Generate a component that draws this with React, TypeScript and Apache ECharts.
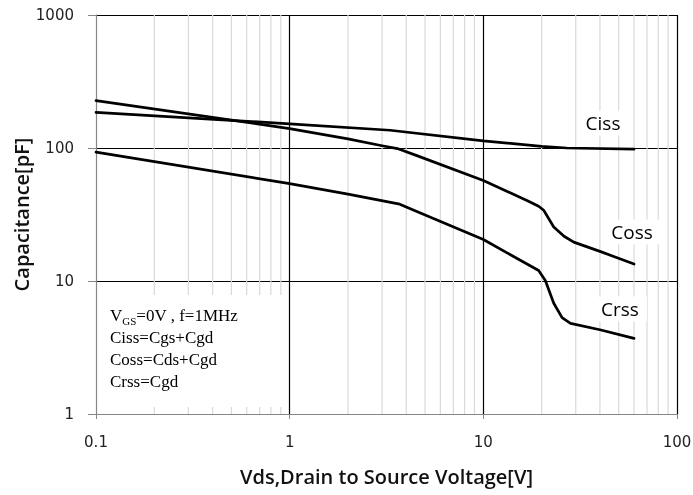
import React, { useEffect, useRef } from "react";
import * as echarts from "echarts";

// Drain-source voltage [V] and capacitance [pF] for each curve
const cissV = [0.1, 1, 3.3, 10, 20, 27, 60];
const cissC = [185, 152, 136, 113, 103, 100, 98];

const cossV = [0.1, 1, 2, 3, 3.6, 4.5, 10, 17, 19.3, 20.5, 23.1, 26.1, 29.3, 40, 60];
const cossC = [227, 140, 117, 104, 99, 88, 57, 40, 36.5, 34, 25.5, 21.7, 19.6, 16.7, 13.4];

const crssV = [0.1, 1, 2, 3.7, 4.6, 10, 19.3, 20.9, 23.1, 25.5, 28.2, 40, 60];
const crssC = [93, 54, 45, 37.8, 33, 20.5, 12, 10.1, 6.8, 5.3, 4.8, 4.3, 3.7];

const xTickLabels = ["0.1", "1", "10", "100"];
const yTickLabels = ["1", "10", "100", "1000"];
const minorGridX = [0.2, 0.3, 0.4, 0.5, 0.6, 0.7, 0.8, 0.9, 2, 3, 4, 5, 6, 7, 8, 9, 20, 30, 40, 50, 60, 70, 80, 90];

const fmt = (v: number, labels: string[]) => {
  const s = String(+Number(v).toPrecision(6));
  return labels.includes(s) ? s : "";
};

export default function App() {
  const ref = useRef<HTMLDivElement>(null);
  useEffect(() => {
    const chart = echarts.init(ref.current!, null, { renderer: "svg" });
    const curve = (name: string, v: number[], c: number[]) => ({
      type: "line",
      name,
      data: v.map((x, i) => [x, c[i]]),
      smooth: false,
      symbol: "none",
      silent: true,
      z: 5,
      lineStyle: { color: "#000", width: 2.7, join: "round", cap: "round" },
    });
    const minor = minorGridX.map((v) => ({
      type: "line",
      data: [
        [v, 1],
        [v, 1000],
      ],
      symbol: "none",
      silent: true,
      z: 1,
      lineStyle: { color: "#d9d9d9", width: 1.2 },
    }));
    const gray = "#868686";
    chart.setOption({
      animation: false,
      grid: { left: 96, right: 16, top: 15, bottom: 81, containLabel: false, outerBoundsMode: "none" },
      xAxis: {
        type: "log",
        logBase: 10,
        min: 0.1,
        max: 100,
        name: "Vds,Drain to Source Voltage[V]",
        nameLocation: "middle",
        nameGap: 52,
        nameMoveOverlap: false,
        nameTextStyle: { fontFamily: "Open Sans", fontWeight: 600, fontSize: 20, color: "#111" },
        axisLine: { show: true, lineStyle: { color: gray, width: 1.2 } },
        axisTick: { show: true, length: 5, lineStyle: { color: gray } },
        axisLabel: {
          margin: 20,
          fontFamily: "DejaVu Sans",
          fontSize: 15,
          color: "#222",
          formatter: (v: number) => fmt(v, xTickLabels),
        },
        splitLine: { show: true, showMinLine: false, lineStyle: { color: "#000", width: 1.2 } },
      },
      yAxis: {
        type: "log",
        logBase: 10,
        min: 1,
        max: 1000,
        name: "Capacitance[pF]",
        nameLocation: "middle",
        nameGap: 65,
        nameMoveOverlap: false,
        nameTextStyle: { fontFamily: "Open Sans", fontWeight: 600, fontSize: 20, color: "#111" },
        axisLine: { show: true, lineStyle: { color: gray, width: 1.2 } },
        axisTick: { show: true, length: 8, lineStyle: { color: gray } },
        axisLabel: {
          margin: 22,
          fontFamily: "DejaVu Sans",
          fontSize: 15,
          color: "#222",
          formatter: (v: number) => fmt(v, yTickLabels),
        },
        splitLine: { show: true, showMinLine: false, lineStyle: { color: "#000", width: 1.2 } },
      },
      series: [...minor, curve("Ciss", cissV, cissC), curve("Coss", cossV, cossC), curve("Crss", crssV, crssC)],
      graphic: [
        {
          type: "rect",
          z: 100,
          shape: { x: 98, y: 295, width: 188, height: 112 },
          style: { fill: "#fff" },
          silent: true,
        },
        {
          type: "text",
          z: 101,
          x: 110,
          y: 304,
          silent: true,
          style: {
            text: "{n|V}{s|GS}{n|=0V , f=1MHz}\n{n|Ciss=Cgs+Cgd}\n{n|Coss=Cds+Cgd}\n{n|Crss=Cgd}",
            fill: "#000",
            verticalAlign: "top",
            rich: {
              n: { fontFamily: "Liberation Serif", fontSize: 17, lineHeight: 22, fill: "#000" },
              s: { fontFamily: "Liberation Serif", fontSize: 11, lineHeight: 17, fill: "#000", verticalAlign: "bottom" },
            },
          },
        },
        ...[
          { t: "Ciss", x: 603, y: 123 },
          { t: "Coss", x: 632, y: 232 },
          { t: "Crss", x: 620, y: 309 },
        ].map((l) => ({
          type: "text",
          z: 100,
          x: l.x,
          y: l.y,
          silent: true,
          style: {
            text: l.t,
            fontFamily: "Open Sans",
            fontSize: 19,
            fill: "#000",
            align: "center",
            verticalAlign: "middle",
            backgroundColor: "#fff",
            padding: [3, 8],
          },
        })),
      ],
    });
    return () => chart.dispose();
  }, []);
  return <div ref={ref} style={{ position: "fixed", left: 0, top: 0, width: 693, height: 495 }} />;
}
